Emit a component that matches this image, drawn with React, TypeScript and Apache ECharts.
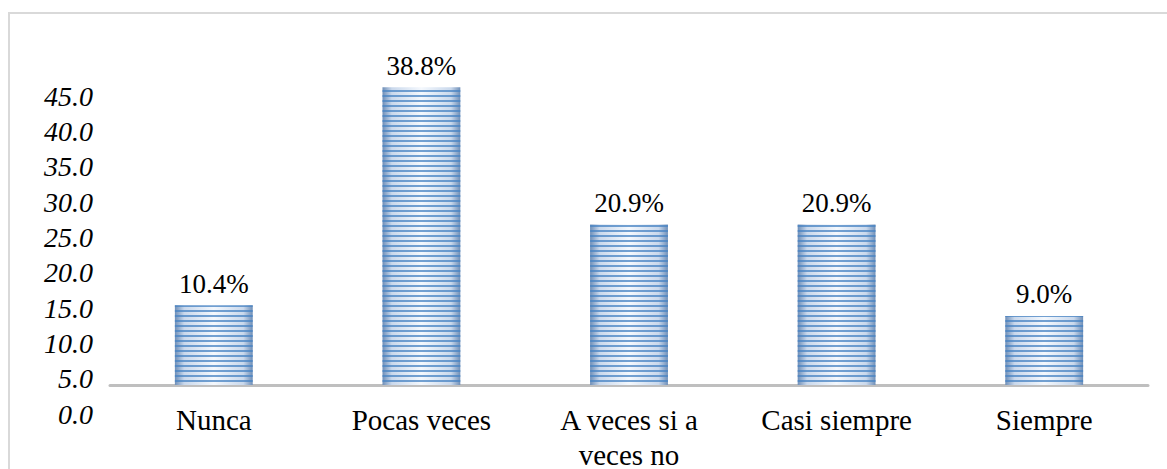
import React, { useEffect, useRef } from "react";
import * as echarts from "echarts";

const categories = ["Nunca", "Pocas veces", "A veces si a veces no", "Casi siempre", "Siempre"];
const percentValues = [10.4, 38.8, 20.9, 20.9, 9.0];
const tickMin = 0;
const tickMax = 45;
const tickStep = 5;

export default function App() {
  const ref = useRef<HTMLDivElement>(null);
  useEffect(() => {
    document.body.style.margin = "0";
    const chart = echarts.init(ref.current!, null, { renderer: "svg" });
    const font = "Liberation Serif";
    chart.setOption({
      animation: false,
      backgroundColor: "#ffffff",
      textStyle: { fontFamily: font },
      graphic: [
        {
          type: "rect",
          shape: { x: 9, y: 13, width: 1200, height: 520 },
          style: { fill: "none", stroke: "#d9d9d9", lineWidth: 2 },
          silent: true,
          z: -10,
        },
      ],
      grid: [
        { left: 110, right: 19, top: 78, bottom: 84, outerBoundsMode: "none", containLabel: false },
        { left: 110, width: 10, top: 96, bottom: 55, outerBoundsMode: "none", containLabel: false },
      ],
      xAxis: [
        {
          type: "category",
          gridIndex: 0,
          data: categories,
          axisLine: { show: true, lineStyle: { color: "#bfbfbf", width: 3 } },
          axisTick: { show: false },
          axisLabel: {
            color: "#000",
            fontFamily: font,
            fontSize: 29,
            margin: 17,
            lineHeight: 35,
            interval: 0,
            formatter: (v: string) => (v === "A veces si a veces no" ? "A veces si a\nveces no" : v),
          },
        },
        { type: "category", gridIndex: 1, data: [""], show: false },
      ],
      yAxis: [
        { type: "value", gridIndex: 0, min: 0, max: 40, show: false, splitLine: { show: false } },
        {
          type: "value",
          gridIndex: 1,
          min: tickMin,
          max: tickMax,
          interval: tickStep,
          axisLine: { show: false },
          axisTick: { show: false },
          splitLine: { show: false },
          axisLabel: {
            color: "#000",
            fontFamily: font,
            fontSize: 28,
            fontStyle: "italic",
            margin: 17,
            formatter: (v: number) => v.toFixed(1),
          },
        },
      ],
      series: [
        {
          type: "bar",
          xAxisIndex: 0,
          yAxisIndex: 0,
          data: percentValues,
          barWidth: "37.5%",
          itemStyle: {
            color: {
              type: "linear",
              x: 0,
              y: 0,
              x2: 1,
              y2: 0,
              colorStops: [
                { offset: 0, color: "#6f8fb8" },
                { offset: 0.12, color: "#c9d8ec" },
                { offset: 0.5, color: "#f4f8fd" },
                { offset: 0.88, color: "#c9d8ec" },
                { offset: 1, color: "#6f8fb8" },
              ],
            },
            decal: {
              symbol: "rect",
              symbolSize: 1,
              color: "rgba(70,130,195,0.75)",
              dashArrayX: [1, 0],
              dashArrayY: [2, 3],
              rotation: 0,
            },
          },
          label: {
            show: true,
            position: "top",
            distance: 8,
            color: "#000",
            fontFamily: font,
            fontSize: 27,
            formatter: (p: any) => p.value.toFixed(1) + "%",
          },
        },
      ],
    });
    return () => chart.dispose();
  }, []);
  return <div ref={ref} style={{ width: 1167, height: 469 }} />;
}
